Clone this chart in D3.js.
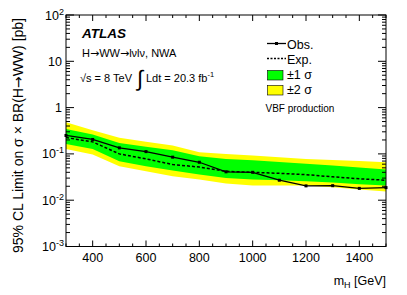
<!DOCTYPE html>
<html>
<head>
<meta charset="utf-8">
<script src="https://cdn.jsdelivr.net/npm/d3@7"></script>
<style>
  body { margin: 0; background: #fff; }
  svg { display: block; font-family: "Liberation Sans", Arial, sans-serif; }
  .arr { font-family: "DejaVu Sans", sans-serif; }
</style>
</head>
<body>
<div id="chart"></div>
<script>
// data
var masses = [300, 400, 500, 600, 700, 800, 900, 1000, 1100, 1200, 1300, 1400, 1500];
var observed = [0.25, 0.205, 0.135, 0.112, 0.085, 0.066, 0.041, 0.040, 0.027, 0.0204, 0.0206, 0.018, 0.0187];
var expected = [0.225, 0.182, 0.10, 0.078, 0.059, 0.052, 0.042, 0.040, 0.038, 0.0357, 0.032, 0.029, 0.027];
var minus2 = [0.128, 0.097, 0.054, 0.042, 0.033, 0.028, 0.023, 0.0207, 0.0207, 0.0207, 0.019, 0.017, 0.0155];
var minus1 = [0.164, 0.128, 0.069, 0.054, 0.044, 0.036, 0.030, 0.028, 0.027, 0.0257, 0.024, 0.022, 0.0207];
var plus1 = [0.347, 0.261, 0.173, 0.142, 0.120, 0.089, 0.078, 0.073, 0.067, 0.061, 0.056, 0.051, 0.046];
var plus2 = [0.48, 0.323, 0.222, 0.184, 0.151, 0.108, 0.100, 0.092, 0.085, 0.078, 0.074, 0.070, 0.066];
var xMajor = [400, 600, 800, 1000, 1200, 1400];
var yDecades = [-3, -2, -1, 0, 1, 2];

var width = 407, height = 295;
var margin = {left: 66, top: 15, right: 21, bottom: 48.5};
var x0 = margin.left, x1 = width - margin.right;
var y0 = height - margin.bottom, y1 = margin.top;

var x = d3.scaleLinear().domain([300, 1500]).range([x0, x1]);
var y = d3.scaleLog().domain([1e-3, 1e2]).range([y0, y1]);

var svg = d3.select("#chart").append("svg")
  .attr("width", width)
  .attr("height", height);

var rows = masses.map((m, i) => ({m: m, obs: observed[i], exp: expected[i],
  lo2: minus2[i], lo1: minus1[i], hi1: plus1[i], hi2: plus2[i]}));

// writes text, putting each arrow in a font with a long arrow glyph
function richText(sel, str){
  str.split(/(→)/).forEach(function(part){
    if (!part) return;
    var t = sel.append("tspan").text(part);
    if (part === "→") t.attr("class", "arr");
  });
  return sel;
}

// bands
var band = (lo, hi) => d3.area().x(d => x(d.m)).y0(d => y(d[lo])).y1(d => y(d[hi]));
svg.append("path").attr("d", band("lo2", "hi2")(rows)).attr("fill", "#ffff00");
svg.append("path").attr("d", band("lo1", "hi1")(rows)).attr("fill", "#00ff00");

// expected
svg.append("path")
  .attr("d", d3.line().x(d => x(d.m)).y(d => y(d.exp))(rows))
  .attr("fill", "none").attr("stroke", "#000").attr("stroke-width", 1.5)
  .attr("stroke-dasharray", "3,2");

// observed
svg.append("path")
  .attr("d", d3.line().x(d => x(d.m)).y(d => y(d.obs))(rows))
  .attr("fill", "none").attr("stroke", "#000").attr("stroke-width", 1.3);
svg.selectAll(".mk").data(rows).enter().append("rect")
  .attr("class", "mk")
  .attr("x", d => x(d.m) - 1.5).attr("y", d => y(d.obs) - 1.5)
  .attr("width", 3).attr("height", 3).attr("fill", "#000");

// frame and ticks
var axes = svg.append("g").attr("stroke", "#000").attr("stroke-width", 1).attr("fill", "none");
axes.append("rect").attr("x", x0).attr("y", y1).attr("width", x1 - x0).attr("height", y0 - y1);

var xMinor = d3.range(300, 1501, 50);
xMinor.forEach(function(v){
  var len = xMajor.includes(v) ? 6 : 3;
  axes.append("line").attr("x1", x(v)).attr("x2", x(v)).attr("y1", y0).attr("y2", y0 - len);
  axes.append("line").attr("x1", x(v)).attr("x2", x(v)).attr("y1", y1).attr("y2", y1 + len);
});

yDecades.forEach(function(e){
  var base = Math.pow(10, e);
  axes.append("line").attr("x1", x0).attr("x2", x0 + 8).attr("y1", y(base)).attr("y2", y(base));
  axes.append("line").attr("x1", x1).attr("x2", x1 - 8).attr("y1", y(base)).attr("y2", y(base));
  if (e < 2) {
    for (var k = 2; k <= 9; k++) {
      var v = k * base;
      axes.append("line").attr("x1", x0).attr("x2", x0 + 4).attr("y1", y(v)).attr("y2", y(v));
      axes.append("line").attr("x1", x1).attr("x2", x1 - 4).attr("y1", y(v)).attr("y2", y(v));
    }
  }
});

// tick labels
svg.selectAll(".xl").data(xMajor).enter().append("text")
  .attr("class", "xl")
  .attr("x", d => x(d)).attr("y", 262)
  .attr("text-anchor", "middle").attr("font-size", 12.5)
  .text(d => d);

yDecades.forEach(function(e){
  var t = svg.append("text").attr("y", y(Math.pow(10, e)) + 4.5)
    .attr("font-size", 12.5).attr("text-anchor", "end");
  if (e === 0) { t.attr("x", x0 - 4).text("1"); return; }
  if (e === 1) { t.attr("x", x0 - 4).text("10"); return; }
  t.attr("x", x0 - 2);
  t.append("tspan").text("10");
  t.append("tspan").attr("dy", -5).attr("font-size", 9).text(e);
});

// axis titles
richText(svg.append("text")
  .attr("transform", "translate(23," + (y1 + 3) + ") rotate(-90)")
  .attr("text-anchor", "end").attr("font-size", 14),
  "95% CL Limit on σ × BR(H→WW) [pb]");

var xt = svg.append("text").attr("x", x1).attr("y", 285)
  .attr("text-anchor", "end").attr("font-size", 12.5);
xt.append("tspan").text("m");
xt.append("tspan").attr("dy", 3).attr("font-size", 9).text("H");
xt.append("tspan").attr("dy", -3).text(" [GeV]");

// labels
svg.append("text").attr("x", 82).attr("y", 37.5)
  .attr("font-size", 13.5).attr("font-weight", "bold").attr("font-style", "italic")
  .text("ATLAS");
richText(svg.append("text").attr("x", 82).attr("y", 56.5).attr("font-size", 11),
  "H→WW→lνlν, NWA");
svg.append("text").attr("x", 80).attr("y", 82).attr("font-size", 11)
  .text("√s = 8 TeV");
svg.append("text").attr("x", 137).attr("y", 86).attr("font-size", 22)
  .text("∫");
var lum = svg.append("text").attr("x", 146).attr("y", 82).attr("font-size", 11);
lum.append("tspan").text("Ldt = 20.3 fb");
lum.append("tspan").attr("dy", -5).attr("font-size", 7.5).text("-1");

// legend
var lg = svg.append("g");
lg.append("line").attr("x1", 267).attr("x2", 286).attr("y1", 43.5).attr("y2", 43.5)
  .attr("stroke", "#000").attr("stroke-width", 1.3);
lg.append("rect").attr("x", 275).attr("y", 42).attr("width", 3).attr("height", 3).attr("fill", "#000");
lg.append("line").attr("x1", 267).attr("x2", 286).attr("y1", 58.5).attr("y2", 58.5)
  .attr("stroke", "#000").attr("stroke-width", 1.3).attr("stroke-dasharray", "2,1.5");
lg.append("rect").attr("x", 267.5).attr("y", 70.5).attr("width", 15.5).attr("height", 9.5)
  .attr("fill", "#00ff00").attr("stroke", "#000").attr("stroke-width", 0.6);
lg.append("rect").attr("x", 267.5).attr("y", 85.5).attr("width", 15.5).attr("height", 9.5)
  .attr("fill", "#ffff00").attr("stroke", "#000").attr("stroke-width", 0.6);
var legText = [["Obs.", 48.5], ["Exp.", 63.5], ["±1 σ", 79], ["±2 σ", 94]];
legText.forEach(function(t){
  lg.append("text").attr("x", 287).attr("y", t[1]).attr("font-size", 12.5).text(t[0]);
});
lg.append("text").attr("x", 265.5).attr("y", 112).attr("font-size", 10).text("VBF production");
</script>
</body>
</html>
